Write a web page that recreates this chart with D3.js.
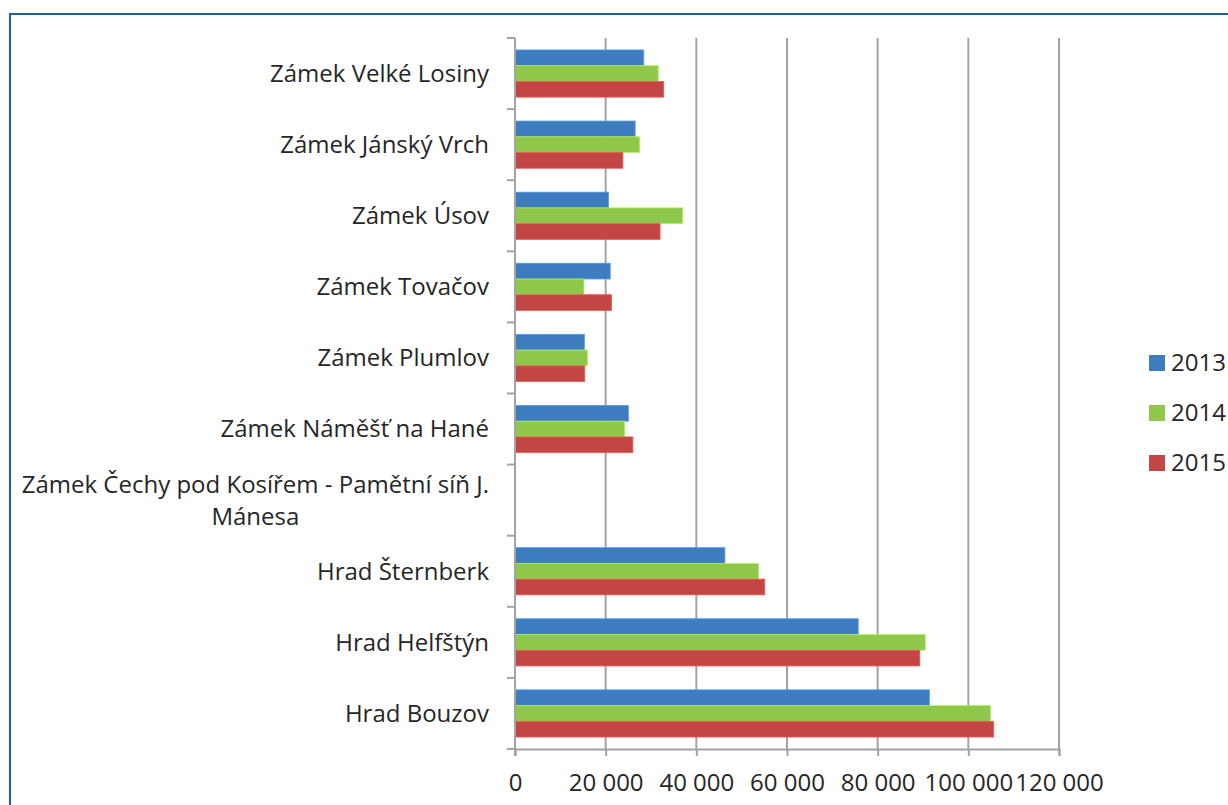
<!DOCTYPE html>
<html>
<head>
<meta charset="utf-8">
<script src="https://cdn.jsdelivr.net/npm/d3@7"></script>
<style>
  body { margin: 0; background: #fff; }
  text { font-family: "Open Sans", sans-serif; fill: #262626; }
</style>
</head>
<body>
<div id="chart"></div>
<script>
var categories = [
  'Zámek Velké Losiny',
  'Zámek Jánský Vrch',
  'Zámek Úsov',
  'Zámek Tovačov',
  'Zámek Plumlov',
  'Zámek Náměšť na Hané',
  'Zámek Čechy pod Kosířem - Pamětní síň J. Mánesa',
  'Hrad Šternberk',
  'Hrad Helfštýn',
  'Hrad Bouzov'
];
var years = ['2013', '2014', '2015'];
var v2013 = [28400, 26500, 20600, 21000, 15300, 25000, 0, 46300, 75700, 91400];
var v2014 = [31600, 27500, 37000, 15200, 16000, 24200, 0, 53700, 90500, 104900];
var v2015 = [32800, 23800, 32000, 21300, 15400, 26000, 0, 55100, 89300, 105600];
var xTicks = [0, 20000, 40000, 60000, 80000, 100000, 120000];
var colors = ['#3e7cc0', '#8fc74a', '#c24644'];

var WIDTH = 1228;
var HEIGHT = 805;
var LEFT = 515;
var RIGHT = 1059;
var TOP = 38;
var BOTTOM = 749;
var FONT = 24;

var series = [v2013, v2014, v2015];

var svg = d3.select('#chart')
  .append('svg')
    .attr('width', WIDTH)
    .attr('height', HEIGHT);

// outer frame
svg.append('rect')
  .attr('x', 10).attr('y', 14)
  .attr('width', WIDTH + 20).attr('height', HEIGHT + 20)
  .attr('fill', 'none')
  .attr('stroke', '#1f5f99')
  .attr('stroke-width', 2);

var x = d3.scaleLinear()
  .domain([0, 120000])
  .range([LEFT, RIGHT]);

var y = d3.scaleBand()
  .domain(categories)
  .range([TOP, BOTTOM]);

var inner = d3.scaleBand()
  .domain(years)
  .range([0, y.bandwidth()])
  .paddingOuter(0.76)
  .paddingInner(0);

// vertical gridlines
svg.append('g')
  .selectAll('line')
  .data(xTicks.slice(1))
  .join('line')
    .attr('x1', function(d) { return x(d); })
    .attr('x2', function(d) { return x(d); })
    .attr('y1', TOP)
    .attr('y2', BOTTOM)
    .attr('stroke', '#a3a3a3')
    .attr('stroke-width', 2);

// bars
var groups = svg.append('g')
  .selectAll('g')
  .data(categories)
  .join('g')
    .attr('transform', function(d) { return 'translate(0,' + y(d) + ')'; });

groups.selectAll('rect')
  .data(function(d, i) {
    return years.map(function(yr, j) { return { year: yr, value: series[j][i], c: colors[j] }; });
  })
  .join('rect')
    .attr('x', x(0))
    .attr('y', function(d) { return inner(d.year); })
    .attr('width', function(d) { return x(d.value) - x(0); })
    .attr('height', inner.bandwidth())
    .attr('fill', function(d) { return d.c; })
    .attr('stroke', function(d) { return d.value ? d3.color(d.c).brighter(0.6) : 'none'; })
    .attr('stroke-width', 0.8);

// x axis
var locale = d3.formatLocale({ decimal: ',', thousands: ' ', grouping: [3], currency: ['', ''] });
var xAxis = d3.axisBottom(x)
  .tickValues(xTicks)
  .tickFormat(locale.format(','))
  .tickSize(7)
  .tickPadding(18);

var gx = svg.append('g')
  .attr('transform', 'translate(0,' + BOTTOM + ')')
  .call(xAxis);
gx.select('.domain').attr('stroke', '#a3a3a3').attr('stroke-width', 2);
gx.selectAll('.tick line').attr('stroke', '#a3a3a3').attr('stroke-width', 2);
gx.selectAll('.tick text')
  .attr('font-size', FONT)
  .style('font-family', '"Open Sans", sans-serif')
  .attr('fill', '#262626');

// y axis line + ticks at band edges
var gy = svg.append('g');
gy.append('line')
  .attr('x1', LEFT).attr('x2', LEFT)
  .attr('y1', TOP).attr('y2', BOTTOM + 7)
  .attr('stroke', '#a3a3a3').attr('stroke-width', 2);
var edges = categories.map(function(d) { return y(d); }).concat([BOTTOM]);
gy.selectAll('line.tk')
  .data(edges)
  .join('line')
    .attr('class', 'tk')
    .attr('x1', LEFT - 8).attr('x2', LEFT)
    .attr('y1', function(d) { return d; })
    .attr('y2', function(d) { return d; })
    .attr('stroke', '#a3a3a3').attr('stroke-width', 2);

// category labels, wrapped when too long
var MAXW = 475;
var LABEL_RIGHT = 489;
categories.forEach(function(cat) {
  var cy = y(cat) + y.bandwidth() / 2;
  var t = svg.append('text')
    .attr('font-size', FONT)
    .attr('text-anchor', 'end')
    .attr('x', LABEL_RIGHT)
    .attr('y', cy)
    .attr('dy', '0.35em')
    .text(cat);
  if (t.node().getComputedTextLength() <= MAXW) return;
  t.remove();
  var words = cat.split(' ');
  var lines = [];
  var line = [];
  var probe = svg.append('text').attr('font-size', FONT);
  words.forEach(function(w) {
    line.push(w);
    probe.text(line.join(' '));
    if (probe.node().getComputedTextLength() > MAXW && line.length > 1) {
      line.pop();
      lines.push(line.join(' '));
      line = [w];
    }
  });
  lines.push(line.join(' '));
  var maxw = 0;
  lines.forEach(function(l) {
    probe.text(l);
    maxw = Math.max(maxw, probe.node().getComputedTextLength());
  });
  probe.remove();
  var lh = 32;
  lines.forEach(function(l, i) {
    svg.append('text')
      .attr('font-size', FONT)
      .attr('text-anchor', 'middle')
      .attr('x', LABEL_RIGHT - maxw / 2)
      .attr('y', cy + (i - (lines.length - 1) / 2) * lh)
      .attr('dy', '0.35em')
      .text(l);
  });
});

// legend
var legend = svg.append('g')
  .selectAll('g')
  .data(years)
  .join('g')
    .attr('transform', function(d, i) { return 'translate(1149,' + (355 + i * 50) + ')'; });
legend.append('rect')
  .attr('width', 16).attr('height', 16)
  .attr('fill', function(d, i) { return colors[i]; });
legend.append('text')
  .attr('x', 22).attr('y', 8)
  .attr('dy', '0.35em')
  .attr('font-size', FONT)
  .text(function(d) { return d; });
</script>
</body>
</html>
